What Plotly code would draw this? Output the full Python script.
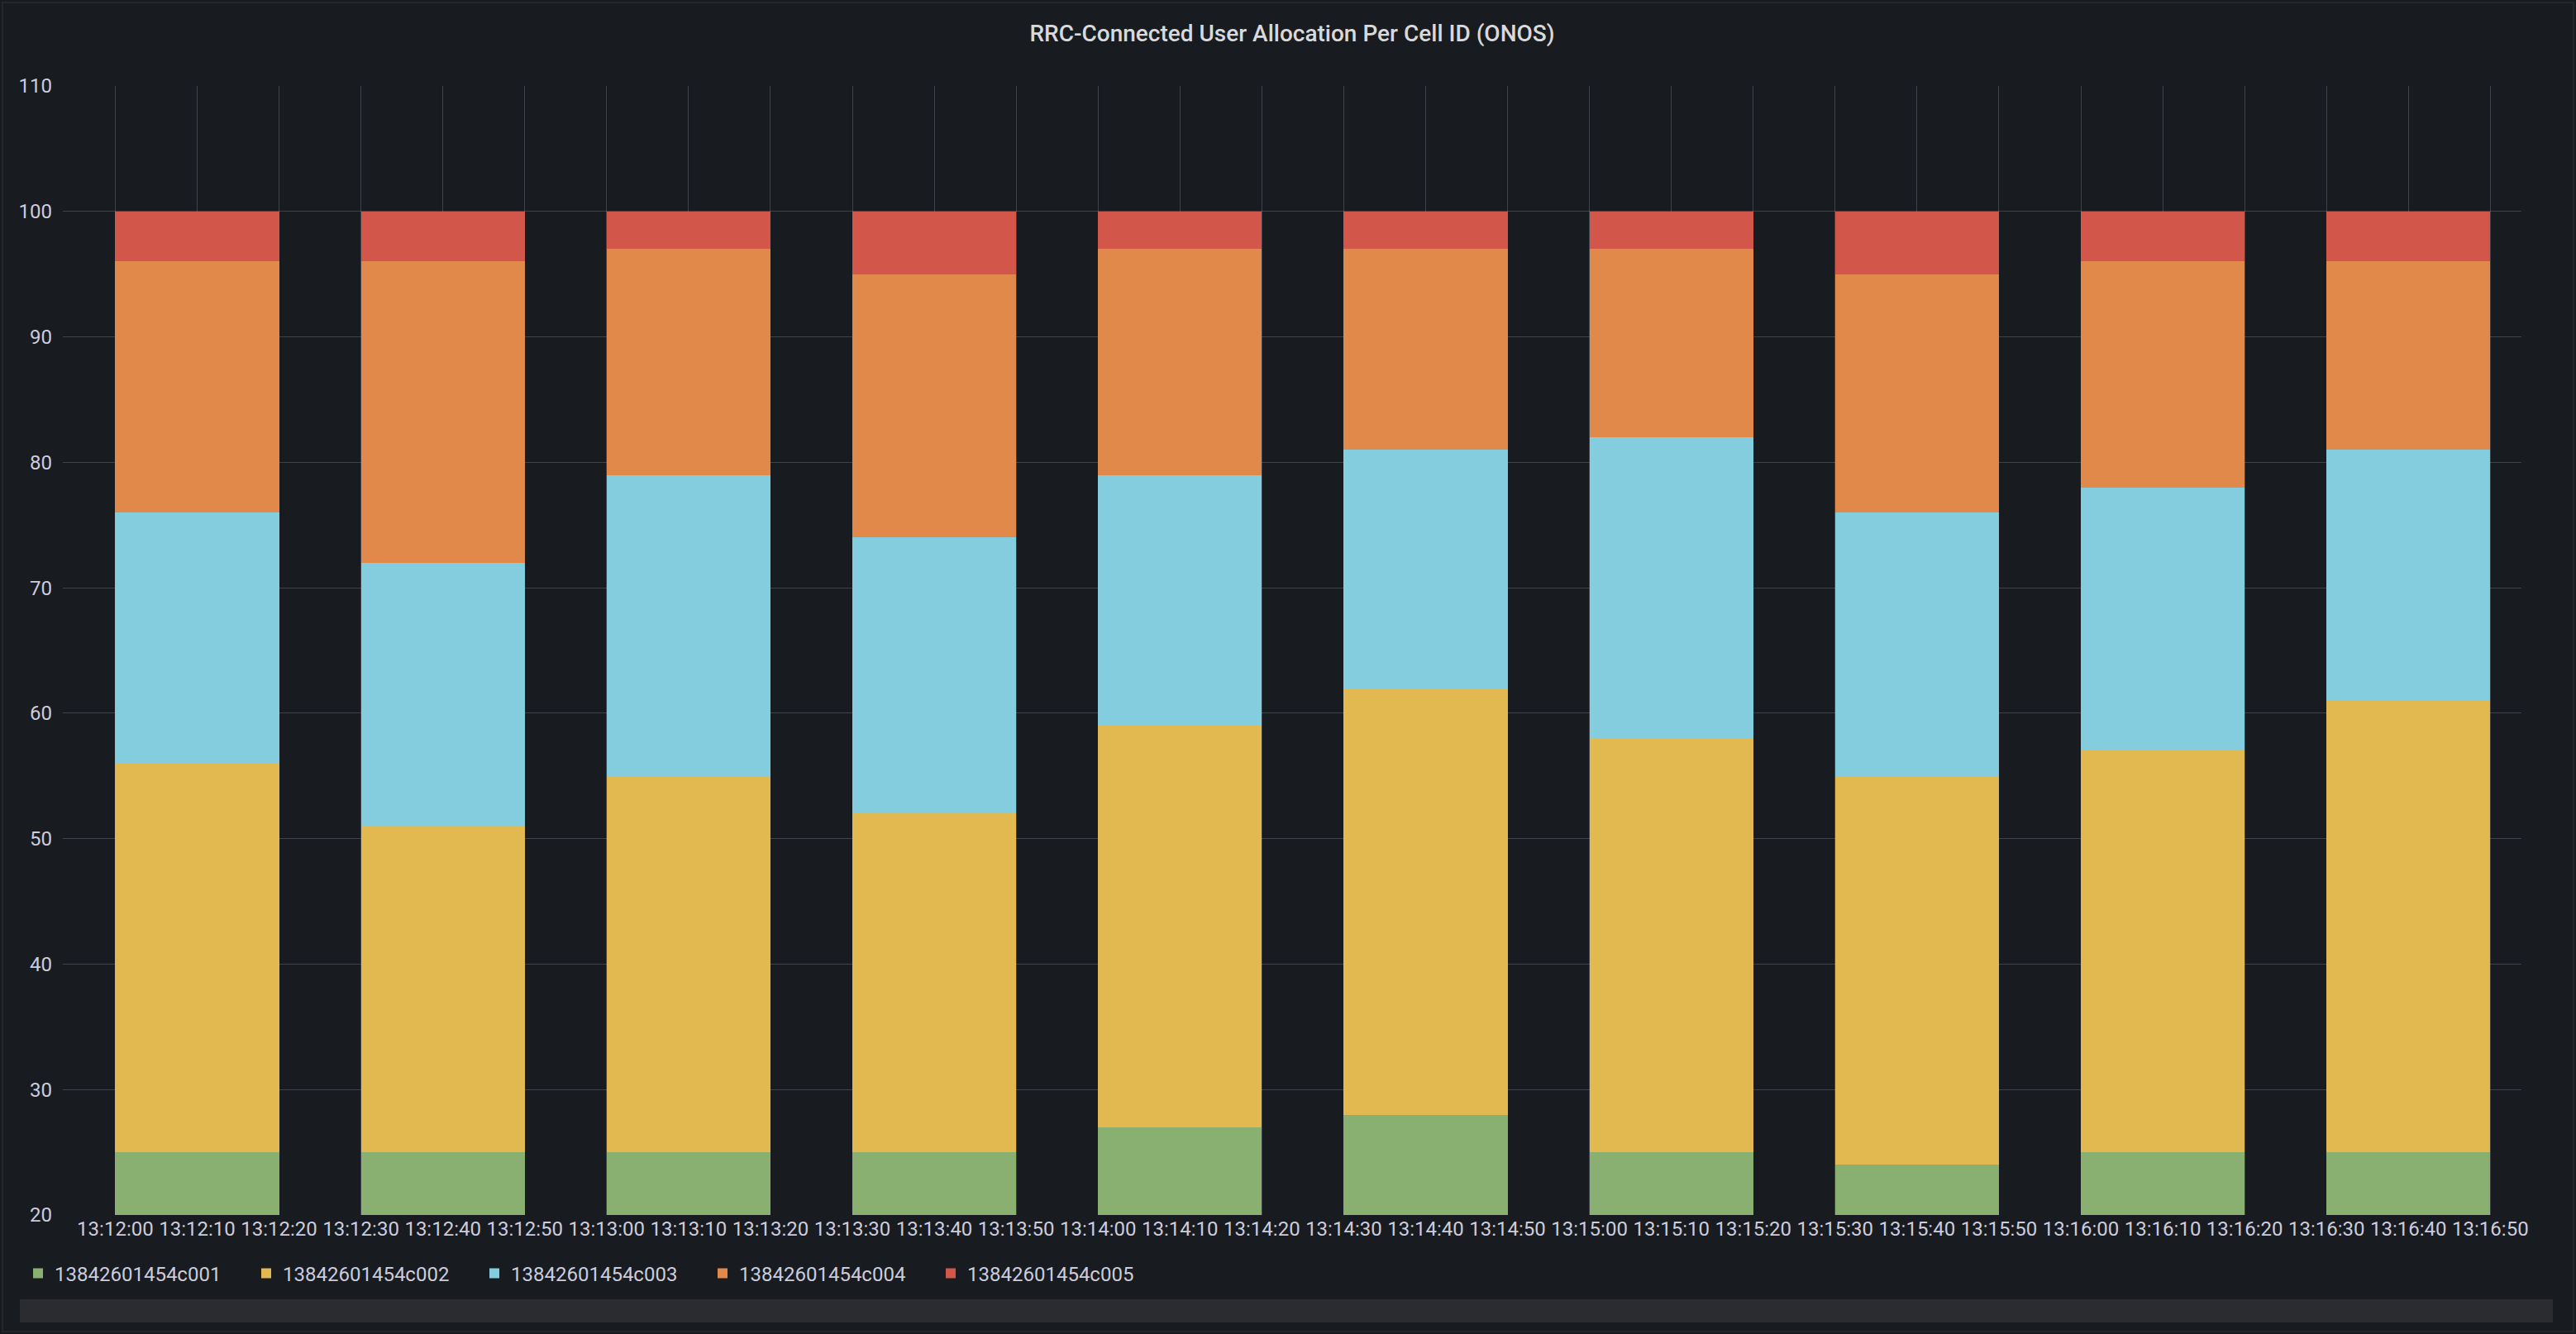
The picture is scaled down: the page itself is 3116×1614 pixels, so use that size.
import plotly.graph_objects as go

# ---- data ----
times = ["2021-03-10 13:12:10", "2021-03-10 13:12:40", "2021-03-10 13:13:10",
         "2021-03-10 13:13:40", "2021-03-10 13:14:10", "2021-03-10 13:14:40",
         "2021-03-10 13:15:10", "2021-03-10 13:15:40", "2021-03-10 13:16:10",
         "2021-03-10 13:16:40"]
series_names = ["13842601454c001", "13842601454c002", "13842601454c003",
                "13842601454c004", "13842601454c005"]
c001 = [25, 25, 25, 25, 27, 28, 25, 24, 25, 25]
c002 = [31, 26, 30, 27, 32, 34, 33, 31, 32, 36]
c003 = [20, 21, 24, 22, 20, 19, 24, 21, 21, 20]
c004 = [20, 24, 18, 21, 18, 16, 15, 19, 18, 15]
c005 = [4, 4, 3, 5, 3, 3, 3, 5, 4, 4]
series_values = [c001, c002, c003, c004, c005]
colors = ["#89b070", "#e2b851", "#84cddf", "#e1894a", "#d2564a"]

W, H = 3116, 1614
L, R, T, B = 76, 66, 104, 144
pw, ph = W - L - R, H - T - B

def px_x(px):
    return (px - L) / pw

def px_y(py):
    return (H - B - py) / ph

fig = go.Figure()
for name, vals, col in zip(series_names, series_values, colors):
    fig.add_trace(go.Bar(
        x=times, y=vals, name=name, width=20000,
        marker=dict(color=col, line=dict(width=0)),
    ))

fig.update_layout(
    width=W, height=H,
    barmode="stack",
    paper_bgcolor="#181b1f",
    plot_bgcolor="#181b1f",
    margin=dict(l=L, r=R, t=T, b=B),
    font=dict(family="Roboto, Inter, sans-serif", color="#ccccdc", size=24),
    title=dict(text="RRC-Connected User Allocation Per Cell ID (ONOS)",
               x=0.5, xref="paper", xanchor="center",
               y=1 - 40 / H, yref="container", yanchor="middle",
               font=dict(size=28, color="#d8d9da", weight=500,
                         family="Roboto, Inter, sans-serif")),
    xaxis=dict(
        type="date",
        range=["2021-03-10 13:11:53.6", "2021-03-10 13:16:53.8"],
        tick0="2021-03-10 13:12:00", dtick=10000,
        tickformat="%H:%M:%S", tickangle=0,
        showgrid=True, gridcolor="rgba(204,204,220,0.22)", gridwidth=1,
        zeroline=False, showline=False,
        ticks="", tickfont=dict(size=24, color="#ccccdc"),
        fixedrange=True,
    ),
    yaxis=dict(
        range=[20, 110], tick0=20, dtick=10,
        showgrid=True, gridcolor="rgba(204,204,220,0.22)", gridwidth=1,
        zeroline=False, showline=False, ticks="",
        tickfont=dict(size=24, color="#ccccdc"),
        ticklabelstandoff=12,
    ),
    legend=dict(
        orientation="h", x=px_x(26), xanchor="left",
        y=px_y(1541), yanchor="middle",
        traceorder="normal",
        font=dict(size=24, color="#ccccdc"),
        entrywidth=231, entrywidthmode="pixels",
        bgcolor="rgba(0,0,0,0)", itemclick=False,
    ),
    showlegend=True,
    bargap=0,
)

# scrollbar-like strip under legend
fig.add_shape(type="rect", xref="paper", yref="paper",
              x0=px_x(24), x1=px_x(3088), y0=px_y(1572), y1=px_y(1600),
              fillcolor="#2b2c2f", line=dict(width=0), layer="below")
# panel border
fig.add_shape(type="rect", xref="paper", yref="paper",
              x0=px_x(3), x1=px_x(W - 3), y0=px_y(3), y1=px_y(H - 3),
              fillcolor="rgba(0,0,0,0)", line=dict(width=2, color="#25272b"),
              layer="below")

fig.write_html("out.html")
